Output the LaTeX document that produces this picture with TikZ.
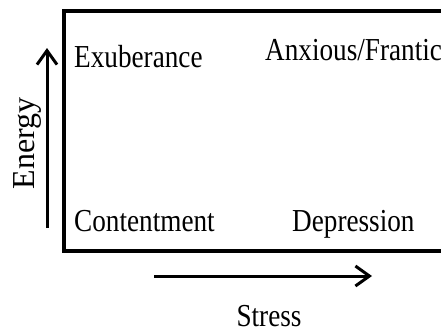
\documentclass[tikz,border=0pt]{standalone}
\usepackage{fontspec}
\setmainfont{Liberation Serif}
\newfontfamily\narrowfont{Liberation Serif}[FakeStretch=0.85]
\usetikzlibrary{arrows.meta,positioning}

\begin{document}
\begin{tikzpicture}[
    x=1pt, y=-1pt,
    axis/.style={-{Straight Barb[length=14pt,width=20pt]}, line width=3pt},
    quadrant/.style={font=\narrowfont\fontsize{32}{36}\selectfont, inner sep=0pt, anchor=base west},
    axislabel/.style={font=\fontsize{32}{36}\selectfont, inner sep=0pt, anchor=base}
]
\useasboundingbox (0,0) rectangle (441,333);
\clip (0,0) rectangle (441,333);

% Frame
\draw[line width=3.5pt] (64,11) rectangle (470,251);

% Quadrants
\node[quadrant] (exub) at (74,67) {Exuberance};
\node[quadrant] (anx) at (265,60) {Anxious/Frantic};
\node[quadrant] (cont) at (74,231) {Contentment};
\node[quadrant] (dep) at (292,231) {Depression};

% Axes
\coordinate (e0) at (47,228);
\coordinate (e1) at (47,48);
\coordinate (s0) at (154,276);
\coordinate (s1) at (372,276);
\draw[axis] (e0) -- (e1);
\draw[axis] (s0) -- (s1);

% Labels
\node[axislabel, rotate=90] (energy) at (34,143.5) {Energy};
\node[axislabel, font=\narrowfont\fontsize{32}{36}\selectfont] (stress) at (269,326) {Stress};

\end{tikzpicture}
\end{document}
